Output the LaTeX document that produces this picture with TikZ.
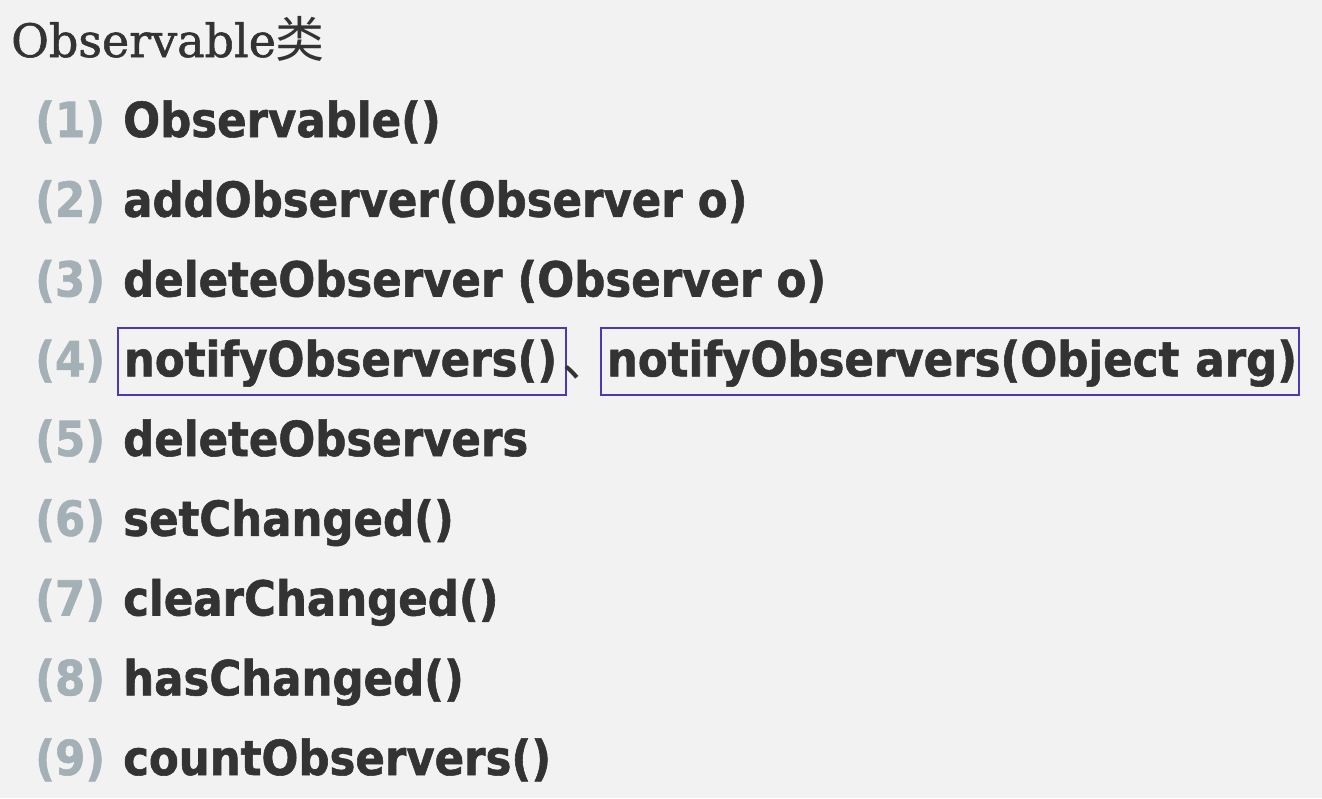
\documentclass[tikz,border=0pt]{standalone}
\usepackage{fontspec}
\setmainfont{DejaVu Sans Condensed}[BoldFeatures={FakeBold=1.2}]
\newfontfamily\titlefont{DejaVu Serif}[FakeBold=1.2]
\newfontfamily\cjkfont{Noto Sans CJK SC}
\usetikzlibrary{positioning}

\definecolor{bggray}{HTML}{F2F2F2}
\definecolor{textdark}{HTML}{333333}
\definecolor{numgray}{HTML}{A3B1B6}
\definecolor{boxblue}{HTML}{4B3BB0}

\tikzset{
  numlabel/.style={anchor=base west, inner sep=0pt, text=numgray,
    font=\fontsize{48.3}{52}\selectfont\bfseries},
  methodname/.style={anchor=base west, inner sep=0pt, text=textdark,
    font=\fontsize{48.3}{52}\selectfont\bfseries},
  markbox/.style={methodname, draw=boxblue, line width=1.8pt, align=left,
    inner xsep=6pt, inner ysep=7pt, text height=41pt, text depth=12pt}
}

\begin{document}
\begin{tikzpicture}[x=1pt, y=-1pt]
  	\fill[bggray] (0, 0) rectangle (1322, 798);
  	\useasboundingbox (0, 0) rectangle (1322, 798);

  	\node[anchor=base west, inner sep=0pt, text=textdark, font=\fontsize{46}{50}\selectfont\titlefont] (title) at (11, 57) {Observable{\fontsize{49}{50}\selectfont\cjkfont 类}};

  	\node[numlabel] (n1) at (35, 137) {(1)};
  	\node[methodname] (m1) at (123, 137) {Observable()};

  	\node[numlabel] (n2) at (35, 216.75) {(2)};
  	\node[methodname] (m2) at (123, 216.75) {addObserver(Observer o)};

  	\node[numlabel] (n3) at (35, 296.5) {(3)};
  	\node[methodname] (m3) at (123, 296.5) {deleteObserver (Observer o)};

  	\node[numlabel] (n4) at (35, 376.25) {(4)};
  	\node[markbox, text width=436pt] (m4a) at (117, 376.25) {\mbox{notifyObservers()}};
  	\node[methodname, font=\fontsize{48.3}{52}\selectfont\cjkfont] (sep4) at (562, 376.25) {、};
  	\node[markbox, text width=686pt] (m4b) at (600, 376.25) {\mbox{notifyObservers(Object arg)}};

  	\node[numlabel] (n5) at (35, 456) {(5)};
  	\node[methodname] (m5) at (123, 456) {deleteObservers};

  	\node[numlabel] (n6) at (35, 535.75) {(6)};
  	\node[methodname] (m6) at (123, 535.75) {setChanged()};

  	\node[numlabel] (n7) at (35, 615.5) {(7)};
  	\node[methodname] (m7) at (123, 615.5) {clearChanged()};

  	\node[numlabel] (n8) at (35, 695.25) {(8)};
  	\node[methodname] (m8) at (123, 695.25) {hasChanged()};

  	\node[numlabel] (n9) at (35, 775) {(9)};
  	\node[methodname] (m9) at (123, 775) {countObservers()};
\end{tikzpicture}
\end{document}
